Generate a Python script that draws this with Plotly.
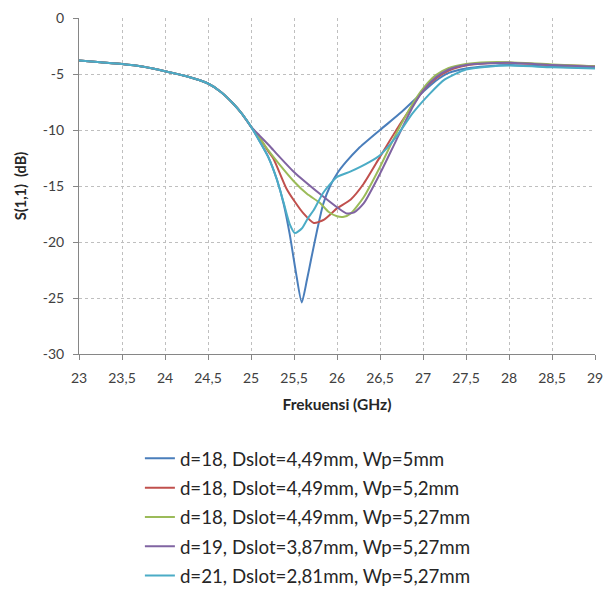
import plotly.graph_objects as go

# Shared low-frequency part (all curves overlap)
head_f = [23.0, 23.25, 23.5, 23.75, 24.0, 24.25, 24.5, 24.65, 24.8, 24.9, 25.0]
head_s = [-3.8, -3.95, -4.1, -4.35, -4.75, -5.2, -5.85, -6.6, -7.7, -8.6, -9.7]

names = [
    "d=18, Dslot=4,49mm, Wp=5mm",
    "d=18, Dslot=4,49mm, Wp=5,2mm",
    "d=18, Dslot=4,49mm, Wp=5,27mm",
    "d=19, Dslot=3,87mm, Wp=5,27mm",
    "d=21, Dslot=2,81mm, Wp=5,27mm",
]
colors = ["#4A7EBB", "#C0504D", "#9BBB59", "#8064A2", "#4BACC6"]

f_blue = head_f + [25.1, 25.2, 25.3, 25.38, 25.45, 25.52, 25.59, 25.65, 25.7, 25.77, 25.84, 25.92,
                   26.0, 26.1, 26.25, 26.5, 26.75, 27.0, 27.15, 27.3, 27.5, 27.75, 28.0, 28.5, 29.0]
s_blue = head_s + [-11.0, -12.4, -14.4, -16.6, -19.3, -22.6, -25.4, -23.4, -21.5, -18.9, -16.6, -15.0,
                   -13.9, -12.9, -11.65, -10.0, -8.4, -6.6, -5.6, -4.9, -4.5, -4.3, -4.2, -4.35, -4.45]

f_red = head_f + [25.1, 25.2, 25.26, 25.41, 25.5, 25.61, 25.73, 25.85, 26.0, 26.16, 26.31, 26.5,
                  26.69, 26.88, 27.0, 27.15, 27.3, 27.5, 27.75, 28.0, 28.5, 29.0]
s_red = head_s + [-10.7, -11.9, -12.55, -15.2, -16.3, -17.45, -18.3, -18.0, -17.0, -16.2, -14.8, -12.4,
                  -10.0, -7.8, -6.5, -5.4, -4.7, -4.25, -4.05, -4.0, -4.2, -4.3]

f_green = head_f + [25.1, 25.2, 25.26, 25.5, 25.65, 25.8, 25.9, 26.0, 26.08, 26.16, 26.31, 26.5,
                    26.69, 26.88, 27.0, 27.15, 27.3, 27.5, 27.75, 28.0, 28.5, 29.0]
s_green = head_s + [-10.7, -11.8, -12.4, -14.6, -15.7, -16.5, -17.3, -17.7, -17.75, -17.45, -16.0, -13.3,
                    -10.3, -7.65, -6.3, -5.1, -4.45, -4.1, -3.95, -3.95, -4.15, -4.3]

f_purple = head_f + [25.1, 25.2, 25.26, 25.5, 25.8, 26.0, 26.11, 26.2, 26.31, 26.5, 26.69, 26.88,
                     27.0, 27.15, 27.3, 27.5, 27.75, 28.0, 28.5, 29.0]
s_purple = head_s + [-10.5, -11.3, -11.8, -13.75, -15.7, -16.9, -17.45, -17.35, -16.56, -13.9, -10.9, -7.95,
                     -6.5, -5.3, -4.6, -4.2, -4.05, -4.0, -4.2, -4.35]

f_cyan = head_f + [25.1, 25.2, 25.3, 25.38, 25.45, 25.51, 25.59, 25.66, 25.73, 25.84, 26.0, 26.16,
                   26.38, 26.5, 26.69, 26.88, 27.08, 27.25, 27.5, 27.75, 28.0, 28.5, 29.0]
s_cyan = head_s + [-11.0, -12.4, -14.4, -16.5, -18.4, -19.2, -18.8, -17.9, -17.15, -15.6, -14.2, -13.7,
                   -12.85, -12.25, -10.6, -8.5, -6.75, -5.5, -4.6, -4.35, -4.25, -4.4, -4.5]

x_tickvals = [23, 23.5, 24, 24.5, 25, 25.5, 26, 26.5, 27, 27.5, 28, 28.5, 29]
x_ticktext = ["23", "23,5", "24", "24,5", "25", "25,5", "26", "26,5", "27", "27,5", "28", "28,5", "29"]
y_tickvals = [0, -5, -10, -15, -20, -25, -30]
y_ticktext = ["0", "-5", "-10", "-15", "-20", "-25", "-30"]

series = [
    (f_blue, s_blue),
    (f_red, s_red),
    (f_green, s_green),
    (f_purple, s_purple),
    (f_cyan, s_cyan),
]

fig = go.Figure()
for (fx, sy), name, col in zip(series, names, colors):
    fig.add_trace(go.Scatter(
        x=fx, y=sy, mode="lines", name=name, legendgroup=name,
        line=dict(color=col, width=2, shape="spline", smoothing=0.6),
    ))

FONT = "Lato, Open Sans, sans-serif"
fig.update_layout(
    width=613, height=591,
    margin=dict(l=79, r=18, t=18, b=237, autoexpand=False),
    paper_bgcolor="white", plot_bgcolor="white",
    font=dict(family=FONT, size=14, color="#404040"),
    showlegend=True,
    legend=dict(
        x=0.118, y=-0.255, xanchor="left", yanchor="top",
        orientation="v", tracegroupgap=2,
        font=dict(family=FONT, size=18.7, color="#262626"),
        itemwidth=30,
    ),
    xaxis=dict(
        range=[23, 29], tickvals=x_tickvals, ticktext=x_ticktext,
        showgrid=True, gridcolor="#BFBFBF", griddash="3px,3px", gridwidth=1,
        showline=True, linecolor="#868686", linewidth=1,
        ticks="outside", ticklen=5, tickcolor="#868686",
        ticklabelstandoff=6,
        zeroline=False,
        tickfont=dict(size=14, color="#404040"),
        title=dict(text="<b>Frekuensi (GHz)</b>", font=dict(size=15.5, color="#262626"), standoff=14),
    ),
    yaxis=dict(
        range=[-30, 0], tickvals=y_tickvals, ticktext=y_ticktext,
        showgrid=True, gridcolor="#BFBFBF", griddash="3px,3px", gridwidth=1,
        showline=True, linecolor="#868686", linewidth=1,
        ticks="outside", ticklen=5, tickcolor="#868686",
        ticklabelstandoff=6,
        zeroline=False,
        tickfont=dict(size=14, color="#404040"),
        title=dict(text="<b>S(1,1)  (dB)</b>", font=dict(size=14.5, color="#262626"), standoff=12),
    ),
)

fig.write_html("out.html", config={"displayModeBar": False},
               post_script="document.body.style.margin='0px';")
